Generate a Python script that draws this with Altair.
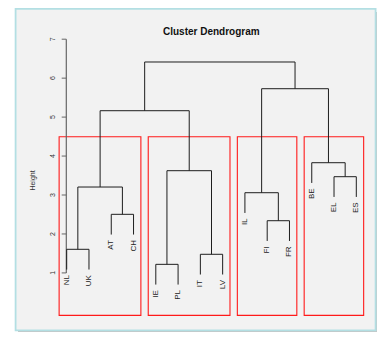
import altair as alt
import pandas as pd

# ---- data ----
leaves = ["NL", "UK", "AT", "CH", "IE", "PL", "IT", "LV", "IL", "FI", "FR", "BE", "EL", "ES"]
# R-style merge matrix: negative = leaf position (1-based), positive = earlier merge
merge_left = [-1, -3, 1, -5, -7, 4, 3, -10, -9, -13, -12, 9, 7]
merge_right = [-2, -4, 2, -6, -8, 5, 6, -11, 8, -14, 10, 11, 12]
merge_height = [1.606, 2.504, 3.205, 1.22, 1.478, 3.624, 5.164, 2.34, 3.059, 3.47, 3.829, 5.729, 6.415]
cluster_first = [1, 5, 9, 12]
cluster_last = [4, 8, 11, 14]
box_bottom = -0.09
y_ticks = [1, 2, 3, 4, 5, 6, 7]
title_text = "Cluster Dendrogram"
y_title = "Height"

# ---- build tree segments ----
hang = 0.1 * (max(merge_height) - min(merge_height))
pos = {}
segs = []
leaf_end = {}
for i, (l, r, h) in enumerate(zip(merge_left, merge_right, merge_height), start=1):
    def child(c):
        if c < 0:
            leaf_end[-c] = h - hang
            return float(-c), h - hang
        return pos[c], merge_height[c - 1]
    xl, tl = child(l)
    xr, tr = child(r)
    pos[i] = (xl + xr) / 2
    segs.append(dict(x=xl, x2=xl, y=tl, y2=h))
    segs.append(dict(x=xr, x2=xr, y=tr, y2=h))
    segs.append(dict(x=xl, x2=xr, y=h, y2=h))
seg_df = pd.DataFrame(segs)

lab_df = pd.DataFrame({"label": leaves,
                       "x": [i + 1 for i in range(len(leaves))],
                       "y": [leaf_end[i + 1] for i in range(len(leaves))]})

hs = sorted(merge_height, reverse=True)
k = len(cluster_first)
box_top = (hs[k - 2] + hs[k - 1]) / 2
box_df = pd.DataFrame({"x": [f - 0.34 for f in cluster_first],
                       "x2": [l + 0.33 for l in cluster_last],
                       "y": [box_bottom] * k,
                       "y2": [box_top] * k})
tick_df = pd.DataFrame({"v": y_ticks, "t": [str(t) for t in y_ticks]})
one = pd.DataFrame({"a": [0]})

W, H = 369, 324
xs = alt.Scale(domain=[-1.635, 14.929], nice=False, zero=False)
ys = alt.Scale(domain=[-0.517, 7.801], nice=False, zero=False)

shadow = alt.Chart(one).mark_rect(fill="#c4c4c4").encode(
    x=alt.value(10), x2=alt.value(369), y=alt.value(4), y2=alt.value(324))
panel = alt.Chart(one).mark_rect(fill="#f2f2f2", stroke="#b3dfe3", strokeWidth=1.8).encode(
    x=alt.value(7.6), x2=alt.value(367.6), y=alt.value(0.9), y2=alt.value(322.3))

tree = alt.Chart(seg_df).mark_rule(color="#1e1e1e", strokeWidth=1).encode(
    x=alt.X("x:Q", scale=xs, axis=None), x2="x2:Q",
    y=alt.Y("y:Q", scale=ys, axis=None), y2="y2:Q")

boxes = alt.Chart(box_df).mark_rect(fill=None, stroke="#ff1a1a", strokeWidth=1.1).encode(
    x=alt.X("x:Q", scale=xs, axis=None), x2="x2:Q",
    y=alt.Y("y:Q", scale=ys, axis=None), y2="y2:Q")

labels = alt.Chart(lab_df).mark_text(angle=270, align="right", baseline="middle", dx=-5.5,
                                      fontSize=8, font="Liberation Sans", color="#222").encode(
    x=alt.X("x:Q", scale=xs, axis=None), y=alt.Y("y:Q", scale=ys, axis=None), text="label:N")

axis_line = alt.Chart(pd.DataFrame({"a": [min(y_ticks)], "b": [max(y_ticks)]})).mark_rule(
    color="#666", strokeWidth=1.2).encode(
    x=alt.value(58.3), y=alt.Y("a:Q", scale=ys, axis=None), y2="b:Q")
ticks = alt.Chart(tick_df).mark_rule(color="#666", strokeWidth=1).encode(
    x=alt.value(53.7), x2=alt.value(58.3), y=alt.Y("v:Q", scale=ys, axis=None))
tick_labels = alt.Chart(tick_df).mark_text(angle=270, align="center", baseline="middle",
                                           fontSize=7, font="Liberation Sans", color="#333").encode(
    x=alt.value(45.3), y=alt.Y("v:Q", scale=ys, axis=None), text="t:N")
ytitle = alt.Chart(one).mark_text(angle=270, align="center", baseline="middle", fontSize=7,
                                  font="Liberation Sans", color="#333", text=y_title).encode(
    x=alt.value(25.3), y=alt.value(172.5))
title = alt.Chart(one).mark_text(align="center", baseline="alphabetic", fontSize=10,
                                 fontWeight="bold", font="Liberation Sans", color="#111",
                                 text=title_text).encode(
    x=alt.value(203.3), y=alt.value(27))

chart = alt.layer(shadow, panel, boxes, axis_line, ticks, tick_labels, ytitle, title,
                  tree, labels).properties(
    width=W, height=H, autosize=alt.AutoSizeParams(type="none"), padding=0,
    background="white").configure_view(stroke=None)

chart.save("out.html", embed_options={"renderer": "svg", "actions": False})
